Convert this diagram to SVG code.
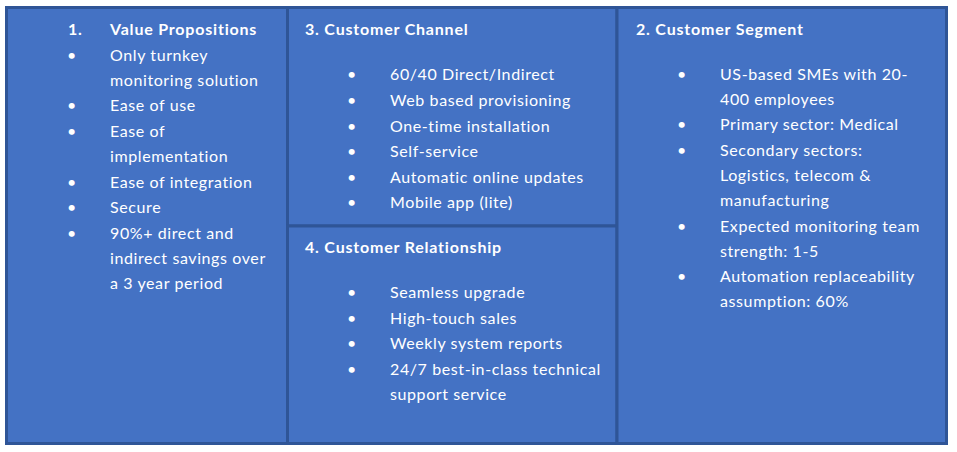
<svg xmlns="http://www.w3.org/2000/svg" width="957" height="452" viewBox="0 0 957 452">
<style>
.cell{fill:#4472C4;stroke:#2F5597;stroke-width:3}
text{font-family:Lato,"Open Sans","Liberation Sans",sans-serif;font-size:16px;fill:#FFFFFF;letter-spacing:0.6px}
.h{font-weight:bold;letter-spacing:0.8px}
</style>
<rect width="957" height="452" fill="#FFFFFF"/>
<g id="value-propositions">
<rect class="cell" x="6.5" y="7.5" width="281" height="436"/>
<text class="h" x="68" y="35">1.</text>
<text class="h" x="110" y="35">Value Propositions</text>
<text x="67" y="61">•</text><text x="110" y="61">Only turnkey</text>
<text x="110" y="86">monitoring solution</text>
<text x="67" y="111">•</text><text x="110" y="111">Ease of use</text>
<text x="67" y="137">•</text><text x="110" y="137">Ease of</text>
<text x="110" y="162">implementation</text>
<text x="67" y="188">•</text><text x="110" y="188">Ease of integration</text>
<text x="67" y="213">•</text><text x="110" y="213">Secure</text>
<text x="67" y="239">•</text><text x="110" y="239">90%+ direct and</text>
<text x="110" y="264">indirect savings over</text>
<text x="110" y="289">a 3 year period</text>
</g>
<g id="customer-channel">
<rect class="cell" x="287.5" y="7.5" width="329.5" height="218.5"/>
<text class="h" x="305" y="35">3. Customer Channel</text>
<text x="347" y="80">•</text><text x="390" y="80">60/40 Direct/Indirect</text>
<text x="347" y="106">•</text><text x="390" y="106">Web based provisioning</text>
<text x="347" y="131.5">•</text><text x="390" y="131.5">One-time installation</text>
<text x="347" y="157">•</text><text x="390" y="157">Self-service</text>
<text x="347" y="182.5">•</text><text x="390" y="182.5">Automatic online updates</text>
<text x="347" y="208">•</text><text x="390" y="208">Mobile app (lite)</text>
</g>
<g id="customer-relationship">
<rect class="cell" x="287.5" y="226" width="329.5" height="217.5"/>
<text class="h" x="305" y="253">4. Customer Relationship</text>
<text x="347" y="298">•</text><text x="390" y="298">Seamless upgrade</text>
<text x="347" y="324">•</text><text x="390" y="324">High-touch sales</text>
<text x="347" y="349">•</text><text x="390" y="349">Weekly system reports</text>
<text x="347" y="375">•</text><text x="390" y="375">24/7 best-in-class technical</text>
<text x="390" y="400">support service</text>
</g>
<g id="customer-segment">
<rect class="cell" x="617" y="7.5" width="329.5" height="436"/>
<text class="h" x="636" y="35">2. Customer Segment</text>
<text x="677" y="80">•</text><text x="720" y="80">US-based SMEs with 20-</text>
<text x="720" y="105">400 employees</text>
<text x="677" y="130">•</text><text x="720" y="130">Primary sector: Medical</text>
<text x="677" y="155.5">•</text><text x="720" y="155.5">Secondary sectors:</text>
<text x="720" y="181">Logistics, telecom &amp;</text>
<text x="720" y="206">manufacturing</text>
<text x="677" y="232">•</text><text x="720" y="232">Expected monitoring team</text>
<text x="720" y="257">strength: 1-5</text>
<text x="677" y="282">•</text><text x="720" y="282">Automation replaceability</text>
<text x="720" y="307">assumption: 60%</text>
</g>
</svg>
